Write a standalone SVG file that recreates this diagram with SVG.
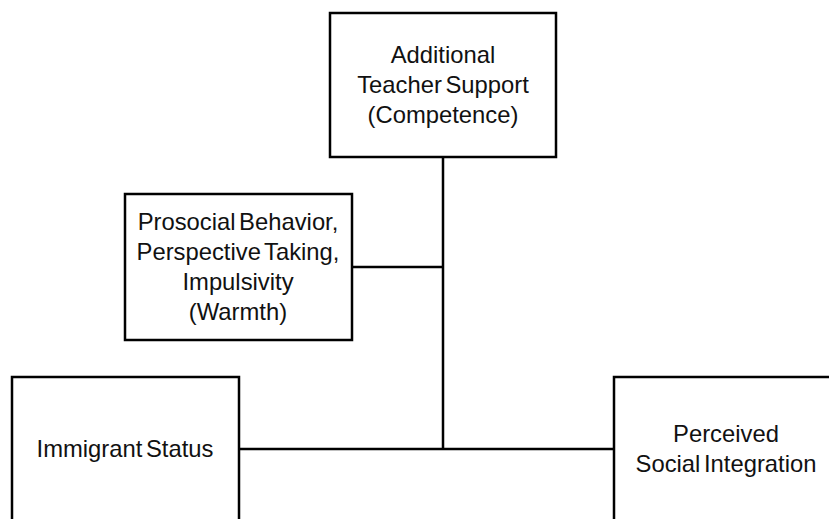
<svg xmlns="http://www.w3.org/2000/svg" width="829" height="519" viewBox="0 0 829 519">
<style>
.box{fill:#fff;stroke:#000;stroke-width:2.5}
.ln{stroke:#000;stroke-width:2.5;fill:none}
text{font-family:"Liberation Sans",Arial,sans-serif;font-size:23.8px;fill:#111;text-anchor:middle;word-spacing:-3px}
</style>
<rect width="829" height="519" fill="#fff"/>
<g id="connectors">
<line class="ln" x1="443" y1="157" x2="443" y2="449"/>
<line class="ln" x1="352" y1="267" x2="443" y2="267"/>
<line class="ln" x1="239" y1="449" x2="614" y2="449"/>
</g>
<g id="teacher">
<rect class="box" x="330" y="13" width="226" height="144"/>
<text x="443" y="63">Additional</text>
<text x="443" y="93">Teacher Support</text>
<text x="443" y="123">(Competence)</text>
</g>
<g id="prosocial">
<rect class="box" x="125" y="194" width="227" height="146"/>
<text x="238" y="230">Prosocial Behavior,</text>
<text x="238" y="260">Perspective Taking,</text>
<text x="238" y="290">Impulsivity</text>
<text x="238" y="320">(Warmth)</text>
</g>
<g id="immigrant">
<rect class="box" x="12" y="377" width="227" height="160"/>
<text x="125" y="457">Immigrant Status</text>
</g>
<g id="integration">
<rect class="box" x="614" y="377" width="240" height="160"/>
<text x="726" y="442">Perceived</text>
<text x="726" y="472">Social Integration</text>
</g>
</svg>
